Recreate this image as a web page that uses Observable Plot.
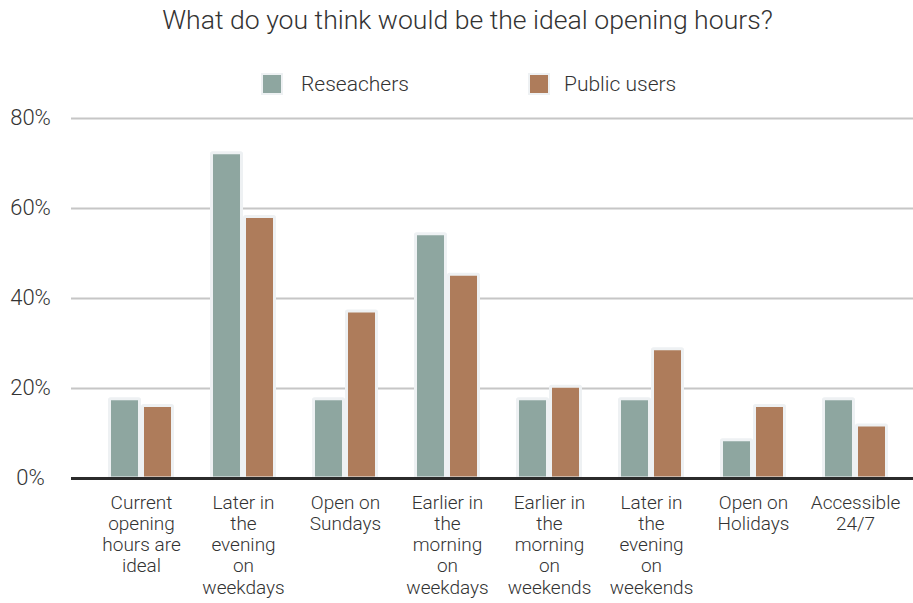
<!DOCTYPE html>
<html>
<head>
<meta charset="utf-8">
<script src="https://cdn.jsdelivr.net/npm/d3@7"></script>
<script src="https://cdn.jsdelivr.net/npm/@observablehq/plot@0.6"></script>
<style>
  html, body { margin: 0; padding: 0; background: #fff; }
  body { width: 913px; height: 603px; position: relative; overflow: hidden;
         font-family: "Roboto", "Liberation Sans", sans-serif; font-weight: 300; color: #333; }
  #title { position: absolute; left: 11px; width: 913px; top: 4px; text-align: center;
           font-size: 26.6px; line-height: 32px; }
  .leg { position: absolute; top: 72px; height: 24px; display: flex; align-items: center;
         font-size: 21px; }
  .sw { width: 22px; height: 22px; box-sizing: border-box; border: 2px solid #eef1f3; }
  #chart { position: absolute; left: 0; top: 100px; }
</style>
</head>
<body>
<div id="title">What do you think would be the ideal opening hours?</div>
<div id="legend"></div>
<div id="chart"></div>
<script>
const categories = [
  "Current opening hours are ideal",
  "Later in the evening on weekdays",
  "Open on Sundays",
  "Earlier in the morning on weekdays",
  "Earlier in the morning on weekends",
  "Later in the evening on weekends",
  "Open on Holidays",
  "Accessible 24/7"
];
const tickLabels = [
  "Current\nopening\nhours are\nideal",
  "Later in\nthe\nevening\non\nweekdays",
  "Open on\nSundays",
  "Earlier in\nthe\nmorning\non\nweekdays",
  "Earlier in\nthe\nmorning\non\nweekends",
  "Later in\nthe\nevening\non\nweekends",
  "Open on\nHolidays",
  "Accessible\n24/7"
];
const seriesNames = ["Reseachers", "Public users"];
const seriesColors = ["#8ea6a0", "#ae7c5b"];
const researchers = [17.6, 72.3, 17.6, 54.3, 17.6, 17.6, 8.5, 17.6];
const publicUsers = [16.1, 58.1, 37.1, 45.3, 20.4, 28.7, 16.1, 11.8];
const yTicks = [0, 20, 40, 60, 80];

const rows = categories.flatMap((c, i) => [
  {category: c, series: seriesNames[0], value: researchers[i]},
  {category: c, series: seriesNames[1], value: publicUsers[i]}
]);

// legend
const legend = document.getElementById("legend");
const legendX = [261, 528];
const legendGap = [18, 14];
seriesNames.forEach((name, i) => {
  const item = document.createElement("div");
  item.className = "leg";
  item.style.left = legendX[i] + "px";
  item.innerHTML = `<div class="sw" style="background:${seriesColors[i]};margin-right:${legendGap[i]}px"></div><span>${name}</span>`;
  legend.appendChild(item);
});

const color = {domain: seriesNames, range: seriesColors};

const chart = Plot.plot({
  width: 913,
  height: 503,
  marginTop: 18,
  marginLeft: 89,
  marginRight: 5.75,
  marginBottom: 125,
  style: {fontFamily: "Roboto, 'Liberation Sans', sans-serif", fontWeight: 300, color: "#333", background: "#fff"},
  x: {domain: categories, padding: 0, label: null},
  y: {domain: [0, 80], label: null},
  color,
  marks: [
    Plot.ruleY(yTicks.filter(d => d > 0), {stroke: "#c6c6c6", strokeWidth: 2, insetLeft: -18, insetRight: -6}),
    Plot.barY(rows.filter(d => d.series === seriesNames[0]), {
      x: "category", y: "value", fill: "series", stroke: "#eef1f3", strokeWidth: 3,
      insetLeft: 19.5, insetRight: 52.5, rx: 1
    }),
    Plot.barY(rows.filter(d => d.series === seriesNames[1]), {
      x: "category", y: "value", fill: "series", stroke: "#eef1f3", strokeWidth: 3,
      insetLeft: 52.5, insetRight: 19.5, rx: 1
    }),
    Plot.ruleY([0], {stroke: "#2b2b2b", strokeWidth: 3, insetLeft: -18, insetRight: -6}),
    Plot.axisY({ticks: yTicks, tickSize: 0, tickPadding: 59, textAnchor: "middle",
      tickFormat: d => d + "%", fontSize: 22, dy: -1, label: null}),
    Plot.axisX({tickSize: 0, tickPadding: 15, lineAnchor: "top", fontSize: 19, lineHeight: 1.12,
      tickFormat: d => tickLabels[categories.indexOf(d)], label: null})
  ]
});
document.getElementById("chart").appendChild(chart);
</script>
</body>
</html>
